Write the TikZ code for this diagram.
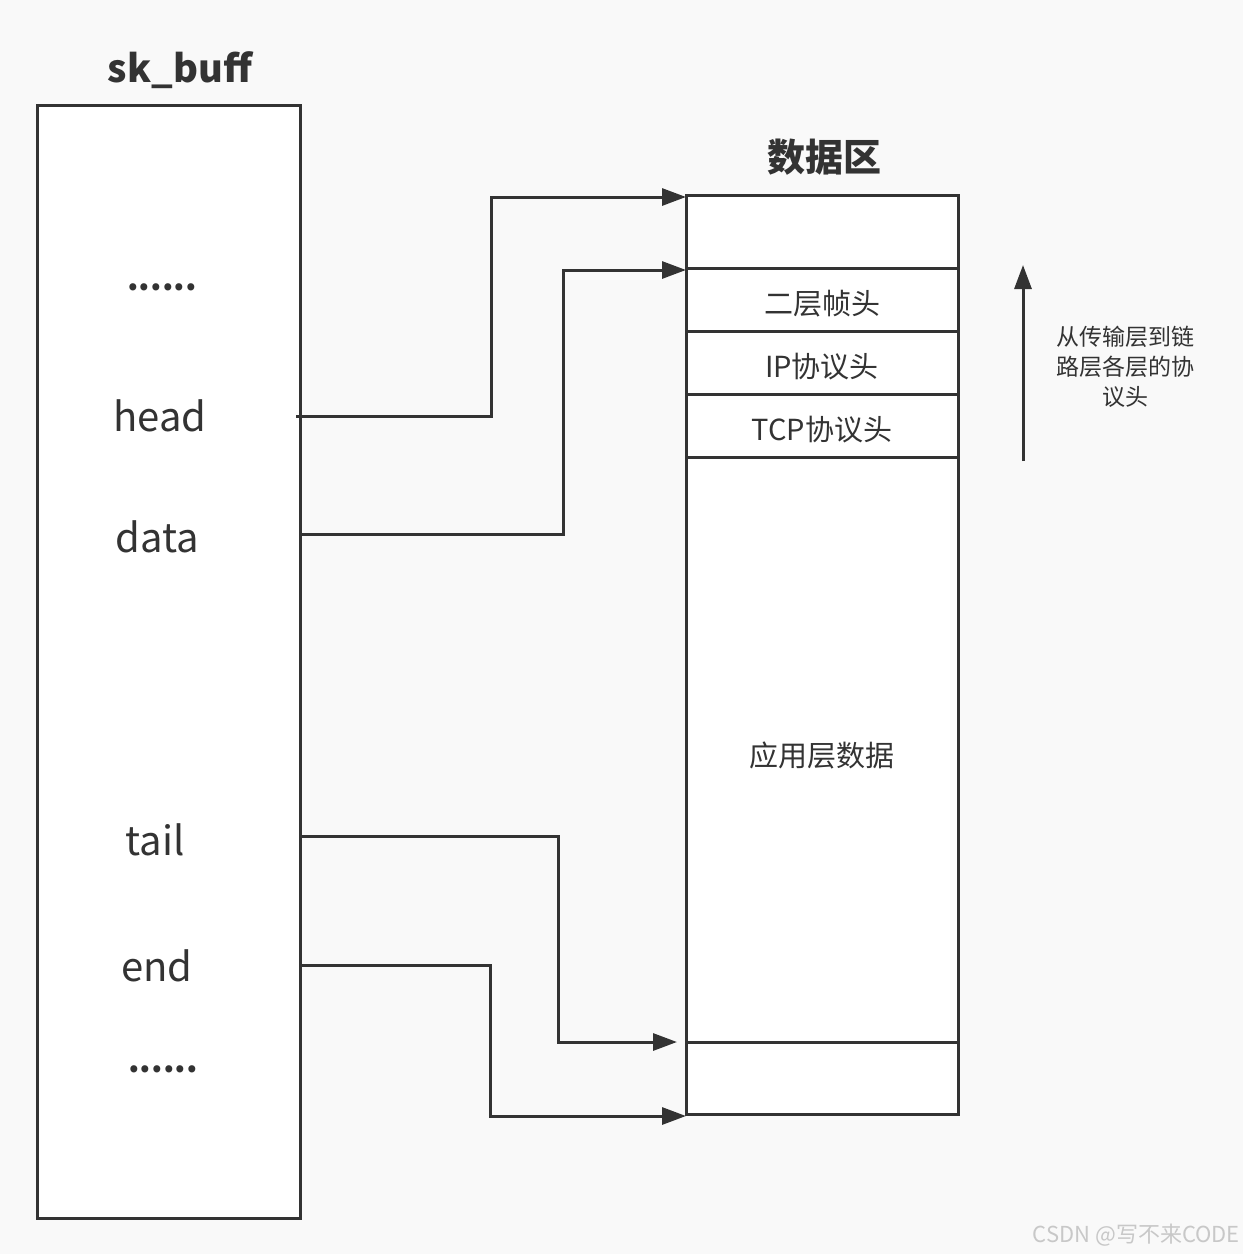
\documentclass[tikz,border=0pt]{standalone}
\usepackage{fontspec}
\setmainfont{Noto Sans CJK SC}
\usetikzlibrary{arrows.meta}
\definecolor{ink}{HTML}{333333}
\definecolor{bg}{HTML}{F9F9F9}
\definecolor{wm}{HTML}{C8C8C8}
\tikzset{
  boxline/.style={draw=ink, line width=3pt, fill=white},
  sepline/.style={draw=ink, line width=3pt},
  conn/.style={draw=ink, line width=3pt, -{Triangle[length=24pt,width=17pt]}},
  fieldlbl/.style={text=ink, font=\fontsize{40}{48}\selectfont, inner sep=0pt},
  dotlbl/.style={text=ink, font=\fontsize{33}{40}\selectfont\bfseries, inner sep=0pt},
  seglbl/.style={text=ink, font=\fontsize{29}{34}\selectfont, inner sep=0pt},
  titlelbl/.style={text=ink, font=\fontsize{38}{46}\selectfont\bfseries, inner sep=0pt},
  notelbl/.style={text=ink, font=\fontsize{23}{30}\selectfont, inner sep=0pt, align=center},
}
\begin{document}
\begin{tikzpicture}[x=1pt,y=-1pt]
\fill[bg] (0,0) rectangle (1243,1254);
\useasboundingbox (0,0) rectangle (1243,1254);
% sk_buff box
\draw[boxline] (37,105) rectangle (300,1218);
\node[titlelbl] (skt) at (180,70) {sk\_buff};
\node[dotlbl] (dots1) at (162,287) {......};
\node[fieldlbl] (head) at (160,416) {head};
\node[fieldlbl] (data) at (157,537) {data};
\node[fieldlbl] (tail) at (155,840) {tail};
\node[fieldlbl] (end) at (157,966) {end};
\node[dotlbl] (dots2) at (163,1069) {......};
% data area
\draw[boxline] (686,195) rectangle (958,1114);
\draw[sepline] (686,268) -- (958,268);
\draw[sepline] (686,331) -- (958,331);
\draw[sepline] (686,394) -- (958,394);
\draw[sepline] (686,457) -- (958,457);
\draw[sepline] (686,1042) -- (958,1042);
\node[titlelbl] (dt) at (824,157) {数据区};
\node[seglbl] (l2) at (822,304) {二层帧头};
\node[seglbl] (ip) at (822,367) {IP协议头};
\node[seglbl] (tcp) at (822,430) {TCP协议头};
\node[seglbl] (app) at (822,755) {应用层数据};
% connector endpoints
\coordinate (hs) at (296,416);
\coordinate (he) at (686,197);
\coordinate (ds) at (300,534);
\coordinate (de) at (686,270);
\coordinate (ts) at (300,836);
\coordinate (te) at (677,1042);
\coordinate (es) at (300,965);
\coordinate (ee) at (686,1116);
\draw[conn] (hs) -- (491,416) |- (he);
\draw[conn] (ds) -- (563,534) |- (de);
\draw[conn] (ts) -- (558,836) |- (te);
\draw[conn] (es) -- (490,965) |- (ee);
% up arrow and note
\coordinate (ua) at (1023,461);
\coordinate (ub) at (1023,265);
\draw[conn] (ua) -- (ub);
\node[notelbl] (note) at (1125,367) {从传输层到链\\路层各层的协\\议头};
% watermark
\node[text=wm, font=\fontsize{22}{26}\selectfont, inner sep=0pt, anchor=east] (wmk) at (1240,1235) {CSDN @写不来CODE};
\end{tikzpicture}
\end{document}
